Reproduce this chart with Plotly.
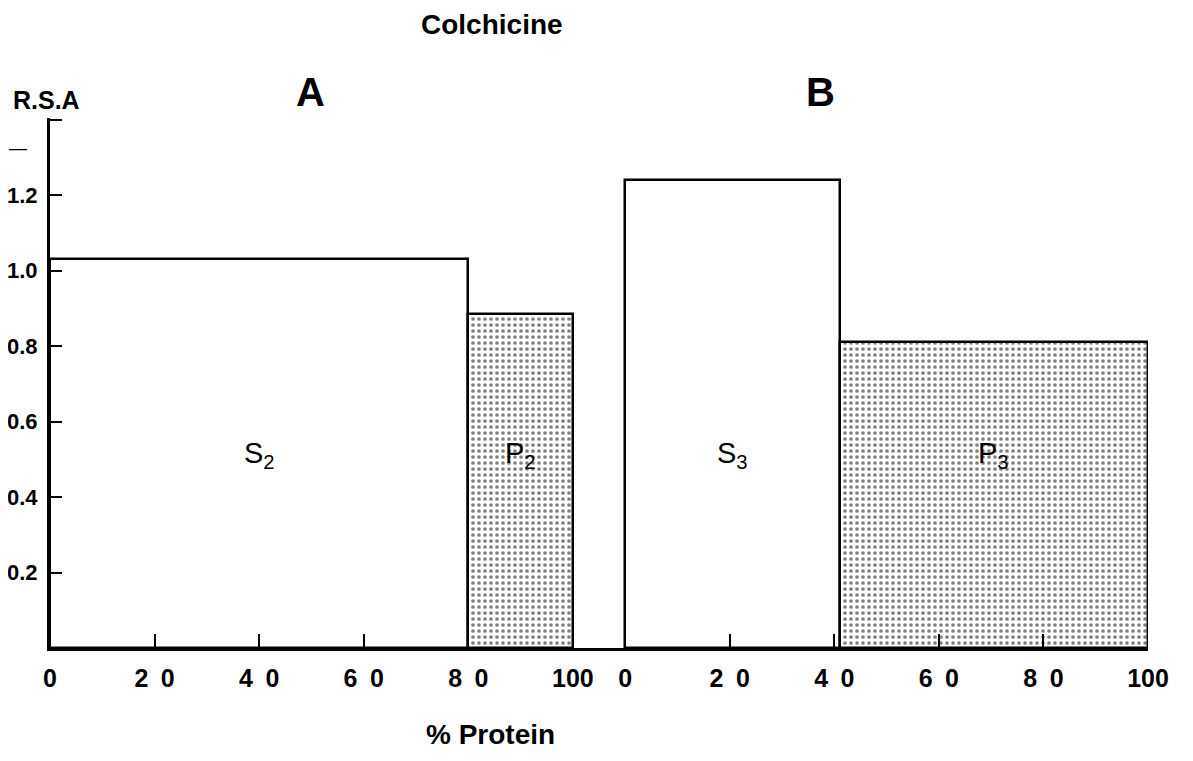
import numpy as np
import plotly.graph_objects as go

# ---- data ----
panel_a_fractions = ["S<sub>2</sub>", "P<sub>2</sub>"]
panel_a_protein_pct = [80, 20]
panel_a_rsa = [1.03, 0.885]

panel_b_fractions = ["S<sub>3</sub>", "P<sub>3</sub>"]
panel_b_protein_pct = [41, 59]
panel_b_rsa = [1.24, 0.81]

panel_offsets = [0, 110]          # panel B drawn after panel A on a shared x axis
x_tick_pct = [0, 20, 40, 60, 80, 100]
x_tick_labels = ["0", "2\u20020", "4\u20020", "6\u20020", "8\u20020", "100"]
y_tick_vals = [0.2, 0.4, 0.6, 0.8, 1.0, 1.2, 1.4]
y_tick_labels = ["0.2", "0.4", "0.6", "0.8", "1.0", "1.2", ""]
label_level = 0.51                # height at which fraction names are written

FONT = "Liberation Sans"
BODY = 8                          # default page margin around the plot div
W, H = 1193 - 2 * BODY, 761 - 2 * BODY
L, T = 50 - BODY, 118 - BODY
PW, PH = 1098, 530
R, B = W - L - PW, H - T - PH

fig = go.Figure()
annotations = []

panels = [
    (panel_a_fractions, panel_a_protein_pct, panel_a_rsa, panel_offsets[0]),
    (panel_b_fractions, panel_b_protein_pct, panel_b_rsa, panel_offsets[1]),
]
for names, widths, heights, off in panels:
    widths = np.array(widths, dtype=float)
    starts = np.concatenate([[0], np.cumsum(widths)[:-1]])
    centers = off + starts + widths / 2
    for i, (n, c, w, h) in enumerate(zip(names, centers, widths, heights)):
        dotted = i == 1
        fig.add_trace(go.Bar(
            x=[c], y=[h], width=[w],
            marker=dict(
                color="white",
                line=dict(color="black", width=2.5),
                pattern=dict(shape="." if dotted else "", fgcolor="black",
                             bgcolor="white", size=6, solidity=0.3),
            ),
            showlegend=False, hoverinfo="skip",
        ))
        annotations.append(dict(
            text=n, x=c, y=label_level, xref="x", yref="y", showarrow=False,
            font=dict(family=FONT, size=29, color="black"),
            bgcolor="rgba(0,0,0,0)",
        ))

tickvals = [off + t for off in panel_offsets for t in x_tick_pct]
ticktext = x_tick_labels * len(panel_offsets)


def px_ann(text, px, py, size, weight="bold"):
    # pixel position in the browser window -> paper coordinates
    return dict(text=text, x=(px - 50) / PW, y=(648 - py) / PH,
                xref="paper", yref="paper", xanchor="center", yanchor="middle",
                showarrow=False, font=dict(family=FONT, size=size, weight=weight))


annotations += [
    px_ann("Colchicine", 492, 25, 28),
    px_ann("R.S.A", 46, 100, 25),
    px_ann("A", 310, 92, 40),
    px_ann("B", 820, 92, 40),
    px_ann("—", 18, 148, 18, "normal"),
    px_ann("% Protein", 490, 734, 28),
]

fig.update_layout(
    width=W, height=H,
    paper_bgcolor="white", plot_bgcolor="white",
    margin=dict(l=L, r=R, t=T, b=B, autoexpand=False),
    bargap=0,
    font=dict(family=FONT, color="black"),
    xaxis=dict(
        range=[0, 210], showgrid=False, zeroline=False, automargin=False,
        showline=True, linecolor="black", linewidth=3,
        tickmode="array", tickvals=tickvals, ticktext=ticktext,
        ticks="inside", ticklen=14, tickwidth=2, tickcolor="black",
        ticklabelstandoff=6,
        tickfont=dict(family=FONT, size=25, weight="bold"),
    ),
    yaxis=dict(
        range=[0, 1.404], showgrid=False, zeroline=False, automargin=False,
        showline=True, linecolor="black", linewidth=3,
        tickmode="array", tickvals=y_tick_vals, ticktext=y_tick_labels,
        ticks="inside", ticklen=12, tickwidth=2, tickcolor="black",
        ticklabelstandoff=5,
        tickfont=dict(family=FONT, size=22, weight="bold"),
    ),
    annotations=annotations,
)

fig.write_html("out.html")
